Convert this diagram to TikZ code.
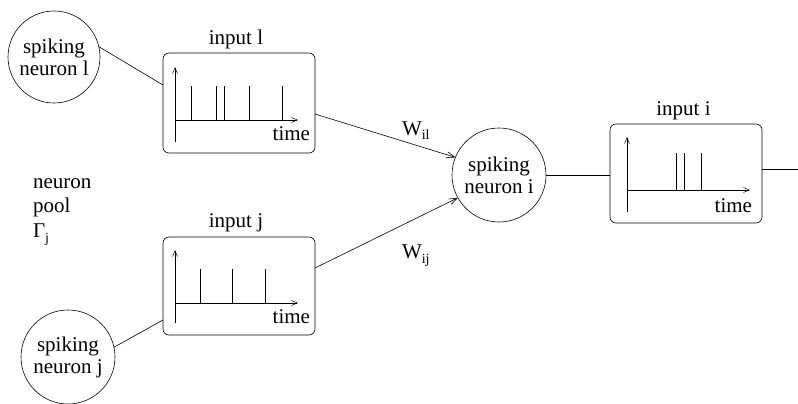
\documentclass[tikz,border=0pt]{standalone}
\usepackage{fontspec}
\setmainfont{Liberation Serif}
\usetikzlibrary{arrows.meta}
\newcommand{\subtxt}[1]{\raisebox{-5pt}{\fontsize{14}{14}\selectfont #1}}
\begin{document}
\begin{tikzpicture}[x=1pt,y=-1pt,
  line width=0.6pt,
  every node/.style={inner sep=0pt,outer sep=0pt},
  txt/.style={font=\fontsize{21}{22}\selectfont},
  neuron/.style={draw,circle,txt,align=center},
  plotbox/.style={draw,rounded corners=6pt,minimum width=152pt},
  axis/.style={-{Straight Barb[length=6pt,width=5pt]},line width=0.5pt},
  spike/.style={line width=0.6pt},
  conn/.style={-{Straight Barb[length=8pt,width=6pt]}}]
\useasboundingbox (0,0) rectangle (798,404);

% neurons
\node[neuron,minimum size=92pt] (nl) at (54,57) {spiking\\neuron l};
\node[neuron,minimum size=94pt] (nj) at (68,357) {spiking\\neuron j};
\node[neuron,minimum size=94pt] (ni) at (499,175) {spiking\\neuron i};

% spike-train boxes
\node[plotbox,minimum height=100pt] (bl) at (239,103) {};
\node[plotbox,minimum height=98pt] (bj) at (239,286) {};
\node[plotbox,minimum height=99pt] (bi) at (686,173.5) {};

% titles
\node[txt,anchor=base] (tl) at (236,45) {input l};
\node[txt,anchor=base] (tj) at (236,227) {input j};
\node[txt,anchor=base] (ti) at (683.5,115) {input i};

% pool label (base anchor sits on the last line)
\node[txt,anchor=base west,align=left,font=\fontsize{21}{24.5}\selectfont] (pool) at (33,237)
  {neuron\\pool\\Γ\subtxt{j}};

% plot in box l
\draw[axis] (175,142) -- (175,67);
\draw[axis] (175,120) -- (298,120);
\foreach \x in {191,216,224,249,282} \draw[spike] (\x,120) -- (\x,86);
\node[txt,anchor=base east] (timel) at (310,140) {time};

% plot in box j
\draw[axis] (175,323) -- (175,250);
\draw[axis] (175,303) -- (298,303);
\foreach \x in {200,232,265} \draw[spike] (\x,303) -- (\x,269);
\node[txt,anchor=base east] (timej) at (310,323) {time};

% plot in box i
\draw[axis] (627,212) -- (627,137);
\draw[axis] (627,190) -- (750,190);
\foreach \x in {676,684,701} \draw[spike] (\x,190) -- (\x,153);
\node[txt,anchor=base east] (timei) at (752,212) {time};

% connectors (shifts are in page directions: positive is up)
\coordinate (out) at (798,169);
\draw (nl.13) -- ([yshift=18pt]bl.west);
\draw (nj.12) -- ([yshift=-34pt]bj.west);
\draw[conn] ([yshift=-11pt]bl.east) -- (ni.158);
\draw[conn] ([yshift=18pt]bj.east) -- (ni.209);
\draw (ni.east) -- (ni.east -| bi.west);
\draw ([yshift=4.5pt]bi.east) -- (out);

% weights
\node[txt,anchor=base west] (wil) at (402,135) {W\subtxt{il}};
\node[txt,anchor=base west] (wij) at (402,258) {W\subtxt{ij}};
\end{tikzpicture}
\end{document}
